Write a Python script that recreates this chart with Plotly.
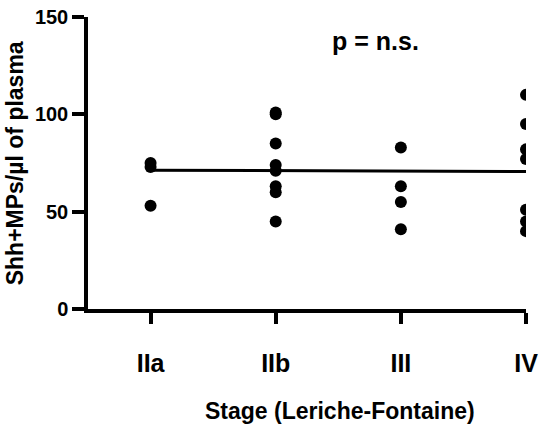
import plotly.graph_objects as go

stages = ["IIa", "IIb", "III", "IV"]
vals_IIa = [75, 73, 53]
vals_IIb = [101, 100, 85, 74, 71, 63, 60, 45]
vals_III = [83, 63, 55, 41]
vals_IV = [110, 95, 82, 77, 51, 45, 40]
line_x = ["IIa", "IV"]
line_y = [71.3, 70.6]

groups = [vals_IIa, vals_IIb, vals_III, vals_IV]
xs, ys = [], []
for s, vals in zip(stages, groups):
    xs += [s] * len(vals)
    ys += vals

fnt = "Liberation Sans, Arial, sans-serif"
bold = lambda size: dict(family=fnt, size=size, color="black", weight="bold")

fig = go.Figure()
fig.add_trace(go.Scatter(
    x=line_x, y=line_y, mode="lines",
    line=dict(color="black", width=3), showlegend=False
))
fig.add_trace(go.Scatter(
    x=xs, y=ys, mode="markers",
    marker=dict(color="black", size=12), showlegend=False
))

# p-value label and axis titles placed by hand
fig.add_annotation(x=0.657, y=0.917, xref="paper", yref="paper", text="p = n.s.",
                   xanchor="center", yanchor="middle", showarrow=False, font=bold(25))
fig.add_annotation(x=-0.166, y=0.5, xref="paper", yref="paper",
                   text="Shh+MPs/µl of plasma", textangle=-90,
                   xanchor="center", yanchor="middle", showarrow=False, font=bold(23))
fig.add_annotation(x=0.576, y=-0.35, xref="paper", yref="paper",
                   text="Stage (Leriche-Fontaine)",
                   xanchor="center", yanchor="middle", showarrow=False, font=bold(23))

fig.update_layout(
    width=550, height=436,
    margin=dict(l=88, r=24, t=17, b=127),
    paper_bgcolor="white", plot_bgcolor="white",
    xaxis=dict(
        type="category", categoryorder="array", categoryarray=stages,
        range=[-0.5, 3], showgrid=False, zeroline=False, automargin=False,
        showline=True, linecolor="black", linewidth=3.5,
        ticks="outside", ticklen=11, tickwidth=3.5, tickcolor="black",
        ticklabelstandoff=18, tickfont=bold(25),
    ),
    yaxis=dict(
        range=[0, 150], tickvals=[0, 50, 100, 150],
        showgrid=False, zeroline=False, automargin=False,
        showline=True, linecolor="black", linewidth=3.5,
        ticks="outside", ticklen=12, tickwidth=3.5, tickcolor="black",
        ticklabelstandoff=0, tickfont=bold(20),
    ),
)

# drop the default 8px body margin so the figure sits at the window corner
fig.write_html("out.html", config={"displayModeBar": False},
               post_script="document.body.style.margin='0';")
